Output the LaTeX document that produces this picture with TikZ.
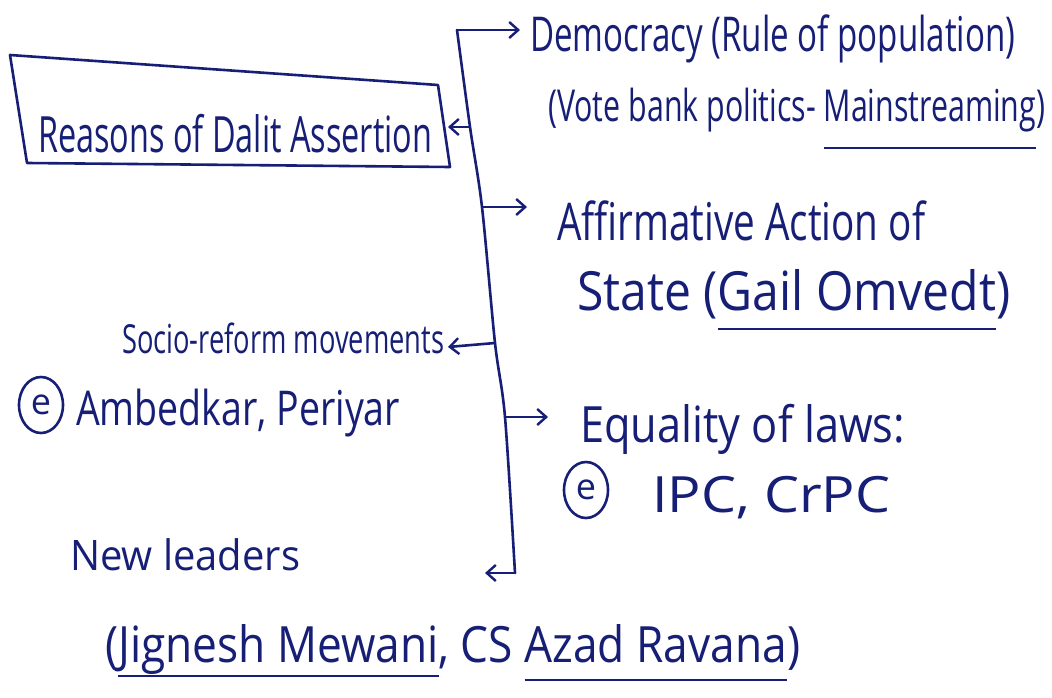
\documentclass[tikz,border=0pt]{standalone}
\usepackage{fontspec}
\setmainfont{Open Sans}
\usetikzlibrary{arrows.meta,shapes.geometric}
\definecolor{ink}{RGB}{22,30,118}
\newcommand{\tx}[3]{{\fontsize{#1}{#1}\selectfont\resizebox{#2}{\height}{#3}}}
\newsavebox{\ulbox}
\newcommand{\ulw}[2]{\sbox{\ulbox}{#2}\rlap{\rule[-#1]{\wd\ulbox}{2.4pt}}\usebox{\ulbox}}
\tikzset{
  ink/.style={draw=ink,line width=2.6pt,line cap=round,line join=round},
  lbl/.style={anchor=base west,inner sep=0pt,text=ink},
  arr/.style={ink,-{Straight Barb[length=9pt,width=16pt,line width=2.4pt]}},
  circ/.style={ink,ellipse,minimum width=44pt,minimum height=56pt,inner sep=0pt,text=ink,font=\fontsize{36}{36}\selectfont}
}
\begin{document}
\begin{tikzpicture}[x=1pt,y=-1pt]
\useasboundingbox[fill=white] (0,0) rectangle (1052,698);
% box
\draw[ink] (10,55) -- (438,85) -- (450,167) -- (27,163) -- cycle;
\node[lbl] (box) at (38,152) {\tx{50pt}{394pt}{Reasons of Dalit Assertion}};
\coordinate (boxR) at (448,127);
% spine
\coordinate (s0) at (457,30);
\coordinate (s1) at (470,127);
\coordinate (s2) at (482,207);
\coordinate (s3) at (495,343);
\coordinate (s4) at (505,417);
\coordinate (s5) at (515,573);
\draw[ink] plot[smooth,tension=0.5] coordinates {(s0) (s1) (s2) (s3) (s4) (s5)};
% texts
\node[lbl] (demo) at (530,52) {\tx{48pt}{485pt}{Democracy (Rule of population)}};
\node[lbl] (vote) at (548,122) {\tx{44pt}{497pt}{(Vote bank politics- \ulw{27pt}{Mainstreaming})}};
\node[lbl] (aff) at (557,240) {\tx{52pt}{368pt}{Affirmative Action of}};
\node[lbl] (state) at (577,310) {\tx{54pt}{433pt}{State (\ulw{20pt}{Gail Omvedt})}};
\node[lbl] (socio) at (122,353) {\tx{40pt}{322pt}{Socio-reform movements}};
\node[circ] (c1) at (41,405) {e};
\node[lbl] (amb) at (76,425) {\tx{48pt}{324pt}{Ambedkar, Periyar}};
\node[lbl] (eq) at (580,442) {\tx{50pt}{325pt}{Equality of laws:}};
\node[circ] (c2) at (586,490) {e};
\node[lbl] (ipc) at (652,512) {\tx{50pt}{238pt}{IPC, CrPC}};
\node[lbl] (new) at (70,570) {\tx{42pt}{230pt}{New leaders}};
\node[lbl] (jig) at (105,662) {\tx{50pt}{695pt}{(\ulw{15pt}{Jignesh Mewani}, CS \ulw{19pt}{Azad Ravana})}};
% connectors
\coordinate (tDemo) at (520,30);
\coordinate (tAff) at (527,207);
\coordinate (tSocio) at (448,347);
\coordinate (tEq) at (548,417);
\coordinate (tNew) at (485,573);
\draw[arr] (s0) -- (tDemo);
\draw[arr] (s1) -- (boxR);
\draw[arr] (s2) -- (tAff);
\draw[arr] (s3) -- (tSocio);
\draw[arr] (s4) -- (tEq);
\draw[arr] (s5) -- (tNew);
\end{tikzpicture}
\end{document}
